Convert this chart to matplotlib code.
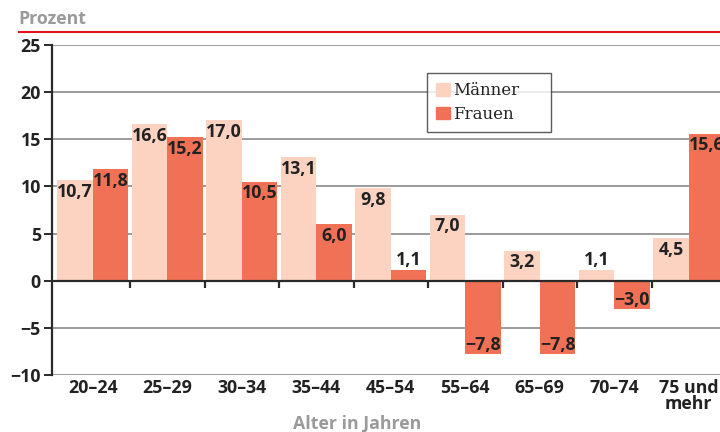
import matplotlib

matplotlib.use("Agg")

import matplotlib.pyplot as plt
from matplotlib.patches import Patch

# data
age_groups = ["20–24", "25–29", "30–34", "35–44", "45–54",
              "55–64", "65–69", "70–74", "75 und\nmehr"]
men = [10.7, 16.6, 17.0, 13.1, 9.8, 7.0, 3.2, 1.1, 4.5]
women = [11.8, 15.2, 10.5, 6.0, 1.1, -7.8, -7.8, -3.0, 15.6]
y_ticks = [-10, -5, 0, 5, 10, 15, 20, 25]

MEN_COLOR = "#fcd3c1"
WOMEN_COLOR = "#f07155"
TEXT_COLOR = "#222222"
GREY_TEXT = "#9a9a9a"
SANS = ["Open Sans", "DejaVu Sans"]
SERIF = ["DejaVu Serif"]
FS = 12.8

plt.rcParams["font.family"] = SANS


def fmt(value: float) -> str:
    return f"{value:.1f}".replace(".", ",").replace("-", "\u2212")


def label_bars(ax, xs, values):
    for x, v in zip(xs, values):
        if abs(v) < 2:
            offset, va = (0, 1), "bottom"
        elif v > 0:
            offset, va = (0, -2), "top"
        else:
            offset, va = (0, 0), "bottom"
        ax.annotate(fmt(v), (x, v), xytext=offset, textcoords="offset points",
                    ha="center", va=va, fontsize=FS, fontweight="bold",
                    color=TEXT_COLOR, zorder=5)


fig = plt.figure(figsize=(7.2, 4.32), dpi=100)
ax = fig.add_axes([52 / 720, 57 / 432, 674 / 720, 330 / 432])

width = 0.477
positions = list(range(len(age_groups)))
men_x = [p - width / 2 for p in positions]
women_x = [p + width / 2 for p in positions]
ax.bar(men_x, men, width=width, color=MEN_COLOR, zorder=3)
ax.bar(women_x, women, width=width, color=WOMEN_COLOR, zorder=3)
label_bars(ax, men_x, men)
label_bars(ax, women_x, women)

ax.set_xlim(-0.55, len(age_groups) - 0.5)
ax.set_ylim(y_ticks[0], y_ticks[-1])

# grid lines
for t in y_ticks:
    if t != 0:
        ax.axhline(t, color="#808080", linewidth=1.1, zorder=1)
ax.axhline(0, color="#2a2a2a", linewidth=1.6, zorder=4)
boundaries = [p + 0.5 for p in positions[:-1]]
ax.vlines(boundaries, -0.75, 0, color="#2a2a2a", linewidth=1.6, zorder=4)

for side in ["top", "right", "bottom"]:
    ax.spines[side].set_visible(False)
ax.spines["left"].set_color("#2a2a2a")
ax.spines["left"].set_linewidth(1.6)
ax.spines["left"].set_zorder(4)

ax.set_yticks(y_ticks)
ax.set_yticklabels([str(t).replace("-", "\u2212") for t in y_ticks],
                   fontsize=FS, fontweight="bold", color=TEXT_COLOR)
ax.tick_params(axis="y", length=6, width=1.4, color="#2a2a2a", pad=2)
ax.set_xticks(positions)
ax.set_xticklabels(age_groups, fontsize=FS, fontweight="bold", color=TEXT_COLOR,
                   linespacing=0.85)
ax.tick_params(axis="x", length=0, pad=3)

legend = ax.legend(
    handles=[Patch(color=MEN_COLOR, label="Männer"), Patch(color=WOMEN_COLOR, label="Frauen")],
    loc="upper left", mode="expand",
    bbox_to_anchor=(427 / 720, 1 - 130 / 432, 124 / 720, 57 / 432),
    bbox_transform=fig.transFigure,
    prop={"family": SERIF, "size": 12}, frameon=True, fancybox=False,
    handlelength=0.8, handleheight=0.8, handletextpad=0.2, labelspacing=0.4,
    borderpad=0.55, borderaxespad=0,
)
legend.get_frame().set_edgecolor("#333333")
legend.get_frame().set_linewidth(1.0)
legend.set_zorder(6)
for text in legend.get_texts():
    text.set_color(TEXT_COLOR)

fig.text(18 / 720, 1 - 19 / 432, "Prozent", fontsize=FS, fontweight="bold",
         color=GREY_TEXT, ha="left", va="center")
fig.add_artist(plt.Line2D([19 / 720, 1.0], [1 - 32 / 432, 1 - 32 / 432],
                          color="#e3101c", linewidth=1.5, transform=fig.transFigure))
fig.text(357 / 720, 1 - 424 / 432, "Alter in Jahren", fontsize=FS, fontweight="bold",
         color=GREY_TEXT, ha="center", va="center")

fig.savefig("out.png", dpi=100)
